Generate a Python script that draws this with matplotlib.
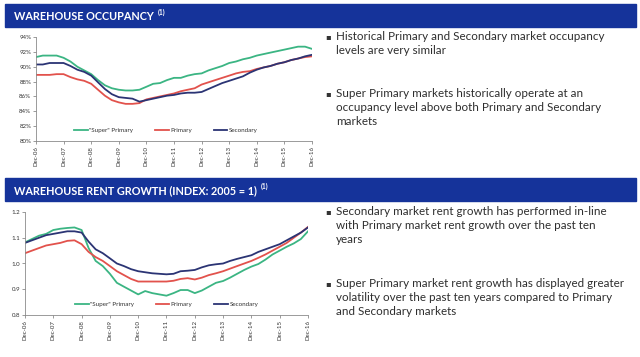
"""Warehouse occupancy and rent growth panels."""
import matplotlib.pyplot as plt
import pandas as pd
from matplotlib.patches import Rectangle
from matplotlib.text import Annotation

plt.rcParams['font.family'] = ['Lato', 'DejaVu Sans']

# quarterly, Dec-06 .. Dec-16
quarters = pd.date_range('2006-12-31', periods=41, freq='QE')
year_ticks = ['Dec-06', 'Dec-07', 'Dec-08', 'Dec-09', 'Dec-10', 'Dec-11',
              'Dec-12', 'Dec-13', 'Dec-14', 'Dec-15', 'Dec-16']
series_names = ['"Super" Primary', 'Primary', 'Secondary']

occ_super = [91.3, 91.5, 91.5, 91.5, 91.2, 90.7, 90.0, 89.5, 89.0,
             88.2, 87.5, 87.1, 86.9, 86.8, 86.8, 86.9, 87.3,
             87.7, 87.8, 88.2, 88.5, 88.5, 88.8, 89.0, 89.1,
             89.5, 89.8, 90.1, 90.5, 90.7, 91.0, 91.2, 91.5,
             91.7, 91.9, 92.1, 92.3, 92.5, 92.7, 92.7, 92.4]
occ_primary = [88.9, 88.9, 88.9, 89.0, 89.0, 88.6, 88.3, 88.1, 87.7,
               86.9, 86.1, 85.5, 85.2, 85.0, 85.0, 85.1, 85.6,
               85.8, 86.0, 86.2, 86.4, 86.7, 86.9, 87.1, 87.6,
               87.9, 88.2, 88.5, 88.8, 89.1, 89.3, 89.4, 89.7,
               89.9, 90.1, 90.4, 90.6, 90.9, 91.1, 91.3, 91.4]
occ_secondary = [90.3, 90.3, 90.5, 90.5, 90.5, 90.1, 89.6, 89.3, 88.8,
                 87.9, 87.0, 86.3, 85.9, 85.8, 85.7, 85.3, 85.5,
                 85.7, 85.9, 86.1, 86.2, 86.4, 86.5, 86.5, 86.6,
                 87.0, 87.4, 87.8, 88.1, 88.4, 88.7, 89.2, 89.6,
                 89.9, 90.1, 90.4, 90.6, 90.9, 91.1, 91.4, 91.6]

rent_super = [1.082, 1.095, 1.108, 1.115, 1.130, 1.135, 1.138, 1.140, 1.130,
              1.060, 1.010, 0.990, 0.960, 0.925, 0.910, 0.895, 0.880,
              0.893, 0.885, 0.880, 0.875, 0.885, 0.897, 0.897, 0.885,
              0.895, 0.910, 0.925, 0.932, 0.945, 0.960, 0.975, 0.988,
              0.998, 1.015, 1.035, 1.050, 1.065, 1.078, 1.095, 1.125]
rent_primary = [1.040, 1.050, 1.060, 1.070, 1.075, 1.080, 1.088, 1.090, 1.075,
                1.045, 1.025, 1.010, 0.990, 0.970, 0.955, 0.940, 0.930,
                0.930, 0.930, 0.930, 0.930, 0.933, 0.940, 0.943, 0.938,
                0.945, 0.955, 0.962, 0.970, 0.980, 0.990, 1.000, 1.010,
                1.022, 1.035, 1.050, 1.065, 1.080, 1.100, 1.120, 1.142]
rent_secondary = [1.080, 1.090, 1.100, 1.110, 1.115, 1.120, 1.125, 1.125, 1.120,
                  1.085, 1.055, 1.040, 1.020, 1.000, 0.990, 0.978, 0.970,
                  0.966, 0.962, 0.960, 0.958, 0.960, 0.970, 0.972, 0.975,
                  0.985, 0.993, 0.997, 1.000, 1.010, 1.018, 1.025, 1.032,
                  1.045, 1.055, 1.065, 1.075, 1.090, 1.105, 1.120, 1.140]

occ_bullets = ['Historical Primary and Secondary market occupancy\nlevels are very similar',
               'Super Primary markets historically operate at an\noccupancy level above both Primary and Secondary\nmarkets']
rent_bullets = ['Secondary market rent growth has performed in-line\nwith Primary market rent growth over the past ten\nyears',
                'Super Primary market rent growth has displayed greater\nvolatility over the past ten years compared to Primary\nand Secondary markets']

colors = ['#3bb583', '#e2524c', '#2b3474']
banner = '#15339a'

W, H = 640, 357
fig = plt.figure(figsize=(W / 100, H / 100), dpi=100)


def px(x, y):
    return x / W, 1 - y / H


def draw_banner(y0, y1, title):
    fig.patches.append(Rectangle(px(5, y1), 631 / W, (y1 - y0) / H,
                                 transform=fig.transFigure, color=banner, zorder=0))
    ym = (y0 + y1) / 2
    t = fig.text(*px(14, ym + 1), title, color='white', fontsize=7.8,
                 fontweight='bold', va='center')
    # superscript footnote marker right after the title
    fig.add_artist(Annotation('(1)', xy=(1, 0.55), xycoords=t,
                              xytext=(3, 0), textcoords='offset points',
                              color='white', fontsize=4.8, fontweight='bold',
                              va='bottom', ha='left'))


def draw_panel(rect, data, ylim, yticks, yfmt, leg_xy):
    ax = fig.add_axes(rect)
    for vals, c, name in zip(data, colors, series_names):
        ax.plot(quarters, vals, color=c, lw=1.3, label=name)
    ax.set_ylim(*ylim)
    ax.set_yticks(yticks)
    ax.set_yticklabels([yfmt(v) for v in yticks])
    ax.set_xlim(quarters[0], quarters[-1])
    ax.set_xticks(quarters[::4])
    ax.set_xticklabels(year_ticks, rotation=90)
    for s in ('top', 'right'):
        ax.spines[s].set_visible(False)
    for s in ('left', 'bottom'):
        ax.spines[s].set_color('#8a8a8a')
        ax.spines[s].set_linewidth(0.6)
    ax.tick_params(labelsize=4.4, colors='#8a8a8a', labelcolor='#333333',
                   length=2, width=0.6, pad=1.5)
    ax.legend(loc='center', bbox_to_anchor=leg_xy, ncol=3, frameon=False,
              fontsize=4.5, handlelength=2.2, handletextpad=0.2,
              columnspacing=3.5, labelcolor='#333333')
    return ax


def draw_bullets(items, ys):
    for txt, y in zip(items, ys):
        fig.text(*px(325, y), '\u25aa', fontsize=6, color='#333333',
                 family='DejaVu Sans', va='top')
        fig.text(*px(336, y - 1), txt, fontsize=8.4, color='#2e2e2e',
                 va='top', linespacing=1.32)


draw_banner(4, 27, 'WAREHOUSE OCCUPANCY')
draw_panel([36 / W, 1 - 141 / H, 276 / W, 104 / H],
           [occ_super, occ_primary, occ_secondary],
           (80, 94), [80, 82, 84, 86, 88, 90, 92, 94],
           lambda v: f'{v:.0f}%', (0.47, 0.1))
draw_bullets(occ_bullets, [32, 89])

draw_banner(178, 201, 'WAREHOUSE RENT GROWTH (INDEX: 2005 = 1)')
draw_panel([25 / W, 1 - 315 / H, 283 / W, 103 / H],
           [rent_super, rent_primary, rent_secondary],
           (0.8, 1.2), [0.8, 0.9, 1.0, 1.1, 1.2],
           lambda v: f'{v:.1f}', (0.5, 0.1))
draw_bullets(rent_bullets, [207, 279])

fig.savefig('out.png', dpi=100, facecolor='white')
